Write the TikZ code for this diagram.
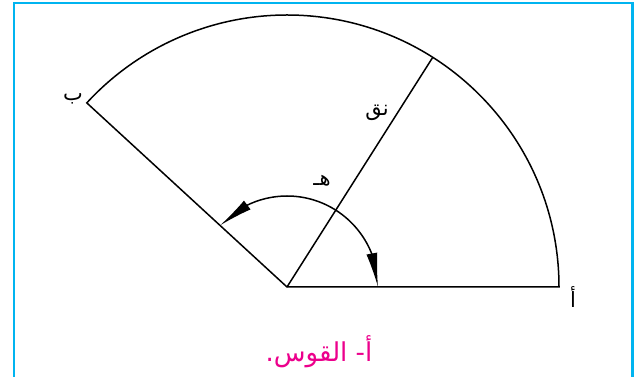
\documentclass[tikz,border=0pt]{standalone}
\usepackage{fontspec}
\newfontfamily\arabicfont[Script=Arabic]{DejaVu Sans}
\TeXXeTstate=1
\usetikzlibrary{arrows.meta, bending}
\definecolor{framecyan}{RGB}{0,180,240}
\definecolor{captionpink}{RGB}{236,0,140}
\tikzstyle{edge} = [line width=1.5pt, black]
\tikzstyle{anglearrow} = [line width=1.5pt, {Latex[length=34pt,width=11pt,flex]}-{Latex[length=34pt,width=11pt,flex]}]
\tikzstyle{lbl} = [font=\arabicfont\fontsize{21}{21}\selectfont, inner sep=0pt]

\begin{document}
\begin{tikzpicture}[x=1pt,y=1pt]
    \useasboundingbox (0,0) rectangle (640,377);
    % Frame (open at the bottom)
    \draw[framecyan, line width=2.8pt] (14,-5) -- (14,374) -- (632.5,374) -- (632.5,-5);
    
    % Centre and end points
    \coordinate (O) at (287,90);
    \coordinate (A) at (559,90);
    \path (O) ++(137.4:272) coordinate (B);
    \path (O) ++(57.6:272) coordinate (R);
    \path (O) ++(0:91) coordinate (H);
    
    % Sector and radius
    \draw[edge] (O) -- (A) arc[start angle=0, end angle=137.4, radius=272] -- cycle;
    \draw[edge] (O) -- (R);
    
    % Angle
    \draw[anglearrow] (H) arc[start angle=0, end angle=137.4, radius=91];
    
    % Labels
    \node[lbl] (labB) at (73,278) {\beginR ب\endR};
    \node[lbl] (labA) at (573,80) {\beginR أ\endR};
    \node[lbl] (labR) at (377,264) {\beginR نق\endR};
    \node[lbl] (labH) at (322,196) {\beginR هـ\endR};
    
    % Caption
    \node[font=\arabicfont\fontsize{26}{26}\selectfont, text=captionpink, inner sep=0pt] (caption) at (319,25) {\beginR أ- القوس.\endR};
\end{tikzpicture}
\end{document}
